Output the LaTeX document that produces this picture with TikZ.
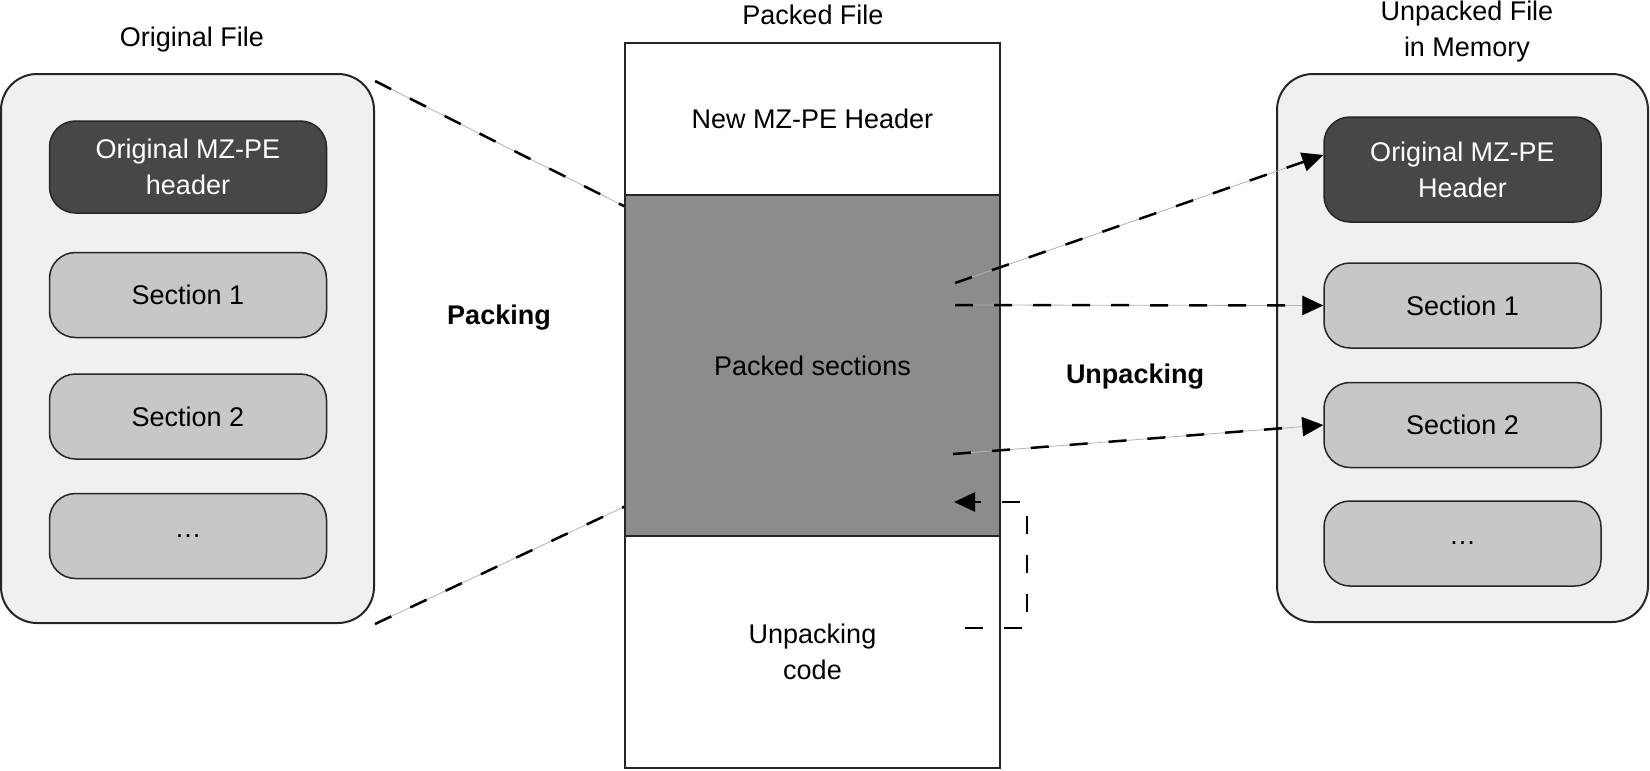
\documentclass[tikz,border=0pt]{standalone}
\usepackage{fontspec}
\setmainfont{Liberation Sans}
\usetikzlibrary{arrows.meta}

\begin{document}
\begin{tikzpicture}[x=1pt,y=-1pt,
	txt/.style={font=\fontsize{27}{36}\selectfont,align=center,inner sep=0pt},
	bold/.style={font=\fontsize{27}{36}\selectfont\bfseries,inner sep=0pt},
	filebox/.style={draw=black!85,line width=2pt,fill=black!6,rounded corners=36pt},
	hdrbox/.style={txt,draw=black!85,line width=1.5pt,fill=black!72,text=white,rounded corners=26pt,minimum width=277pt},
	secbox/.style={txt,draw=black!85,line width=1.5pt,fill=black!22,rounded corners=26pt,minimum width=277pt,minimum height=85pt},
	part/.style={txt,draw=black!85,line width=1.5pt,minimum width=375pt},
	dashline/.style={line width=2.5pt,dash pattern=on 18pt off 21pt},
	conn/.style={dashline,preaction={draw=black!30,line width=0.8pt,solid}},
	tip/.style={-{Triangle[length=21pt,width=19pt]}}]
	\useasboundingbox (0,0) rectangle (1650,771);
	% original file
	\node[txt] (origtitle) at (192,40) {Original File};
	\node[filebox,minimum width=373pt,minimum height=549pt] (orig) at (187.5,348.5) {};
	\node[hdrbox,minimum height=92pt] (orighdr) at (188,167) {Original MZ-PE\\header};
	\foreach \n/\y/\t in {1/295/Section 1, 2/416.5/Section 2, 3/536/{\ldots}}
		{\node[secbox] (origsec\n) at (188,\y) {\t};}
	% packed file
	\node[txt] (packtitle) at (813,15) {Packed File};
	\node[part,minimum height=152pt] (pkhdr) at (812.5,119) {New MZ-PE Header};
	\node[part,fill=black!45,minimum height=341pt] (pksec) at (812.5,365.5) {Packed sections};
	\node[part,minimum height=232pt] (pkcode) at (812.5,652) {Unpacking\\code};
	% unpacked file in memory
	\node[txt] (memtitle) at (1467,32) {Unpacked File\\in Memory};
	\node[filebox,minimum width=371pt,minimum height=548pt] (mem) at (1462.5,348) {};
	\node[hdrbox,minimum height=105pt] (memhdr) at (1462.5,169.5) {Original MZ-PE\\Header};
	\foreach \n/\y/\t in {1/305.5/Section 1, 2/425/Section 2, 3/543.5/{\ldots}}
		{\node[secbox] (memsec\n) at (1462.5,\y) {\t};}
	\node[bold] (packing) at (499,318) {Packing};
	\node[bold] (unpacking) at (1135,377) {Unpacking};
	% packing lines
	\coordinate (oa) at ([yshift=-8pt]orig.north east);
	\coordinate (ob) at (orig.south east);
	\draw[conn] (oa) -- ([yshift=-12pt]pksec.north west);
	\draw[conn] (ob) -- ([yshift=30pt]pksec.south west);
	% unpacking arrows
	\coordinate (u1) at (955,283);
	\coordinate (u2) at (955,305);
	\coordinate (u3) at (953,454);
	\draw[conn,tip] (u1) -- ([yshift=14.5pt]memhdr.west);
	\draw[conn,tip] (u2) -- (memsec1.west);
	\draw[conn,tip] (u3) -- (memsec2.west);
	\coordinate (lp) at (965,628);
	\draw[dashline,tip] (lp) -- (1027,628) -- (1027,502) -- (954,502);
\end{tikzpicture}
\end{document}
